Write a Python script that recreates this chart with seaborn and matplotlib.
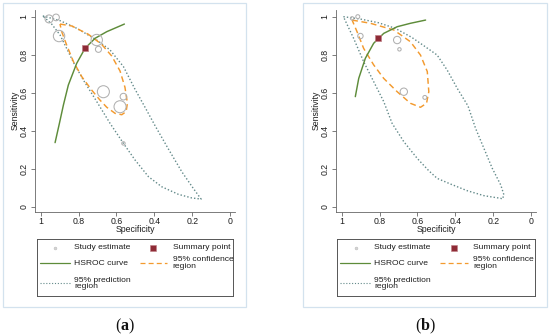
import matplotlib
matplotlib.use("Agg")
import matplotlib.pyplot as plt
import seaborn as sns
from matplotlib.patches import Rectangle

sns.set_theme(style="white")
plt.rcParams['font.family'] = ['Liberation Sans', 'DejaVu Sans']
plt.rcParams['mathtext.fontset'] = 'custom'
plt.rcParams['mathtext.rm'] = 'Liberation Serif'
plt.rcParams['mathtext.bf'] = 'Liberation Serif:bold'

# ---------------- data ----------------
tick_vals = [0, 0.2, 0.4, 0.6, 0.8, 1]
tick_text = ['0', '0.2', '0.4', '0.6', '0.8', '1']

# panel (a)
a_study_spec = [0.956, 0.919, 0.903, 0.704, 0.695, 0.669, 0.563, 0.581, 0.563]
a_study_sens = [0.988, 0.996, 0.898, 0.877, 0.828, 0.605, 0.579, 0.526, 0.333]
a_study_size = [33, 23, 67, 67, 19, 75, 23, 75, 6]
a_summary = (0.766, 0.833)
a_hsroc_spec = [0.924, 0.901, 0.880, 0.854, 0.810, 0.766, 0.713, 0.651, 0.558]
a_hsroc_sens = [0.337, 0.439, 0.535, 0.640, 0.754, 0.833, 0.886, 0.921, 0.961]
a_ci_spec = [0.898, 0.836, 0.748, 0.678, 0.625, 0.581, 0.555, 0.542, 0.549, 0.572,
             0.607, 0.651, 0.687, 0.731, 0.783, 0.827, 0.863, 0.889, 0.898]
a_ci_sens = [0.961, 0.951, 0.907, 0.854, 0.793, 0.714, 0.628, 0.544, 0.500, 0.484,
             0.491, 0.523, 0.561, 0.614, 0.684, 0.763, 0.851, 0.921, 0.961]
a_pr_spec = [0.989, 0.898, 0.810, 0.704, 0.634, 0.563, 0.502, 0.449, 0.396, 0.326,
             0.255, 0.194, 0.153, 0.202, 0.273, 0.361, 0.431, 0.502, 0.563, 0.634,
             0.704, 0.775, 0.824, 0.863, 0.898, 0.942, 0.989]
a_pr_sens = [1.004, 0.979, 0.939, 0.877, 0.825, 0.737, 0.618, 0.523, 0.426, 0.304,
             0.184, 0.096, 0.040, 0.046, 0.065, 0.105, 0.158, 0.246, 0.333, 0.439,
             0.553, 0.667, 0.754, 0.833, 0.904, 0.961, 1.004]

# panel (b)
b_study_spec = [0.945, 0.915, 0.901, 0.707, 0.695, 0.672, 0.561]
b_study_sens = [0.991, 1.000, 0.898, 0.877, 0.828, 0.605, 0.575]
b_study_size = [6, 8, 15, 28, 6, 28, 8]
b_summary = (0.810, 0.886)
b_hsroc_spec = [0.928, 0.910, 0.875, 0.831, 0.778, 0.707, 0.637, 0.557]
b_hsroc_sens = [0.579, 0.675, 0.781, 0.860, 0.912, 0.947, 0.965, 0.982]
b_ci_spec = [0.945, 0.848, 0.725, 0.637, 0.584, 0.548, 0.540, 0.552, 0.584, 0.637,
             0.707, 0.778, 0.831, 0.884, 0.919, 0.945]
b_ci_sens = [0.982, 0.965, 0.930, 0.868, 0.798, 0.711, 0.605, 0.544, 0.523, 0.544,
             0.605, 0.675, 0.746, 0.833, 0.921, 0.982]
b_pr_spec = [0.991, 0.894, 0.806, 0.718, 0.630, 0.559, 0.496, 0.443, 0.390, 0.333,
             0.293, 0.249, 0.205, 0.160, 0.143, 0.152, 0.160, 0.200, 0.249, 0.337,
             0.425, 0.496, 0.540, 0.601, 0.672, 0.734, 0.778, 0.831, 0.884, 0.937, 0.991]
b_pr_sens = [1.000, 0.986, 0.968, 0.939, 0.891, 0.842, 0.798, 0.719, 0.623, 0.530,
             0.412, 0.307, 0.202, 0.114, 0.061, 0.040, 0.044, 0.050, 0.058, 0.084,
             0.119, 0.149, 0.189, 0.254, 0.342, 0.439, 0.553, 0.658, 0.763, 0.886, 1.000]

legend_labels = ['Study estimate', 'Summary point', 'HSROC curve',
                 '95% confidence\nregion', '95% prediction\nregion']

GREEN = '#5e8c3a'
ORANGE = '#f39a2e'
PRED = '#638a8a'
CIRC = '#b0b0b0'
SUMF = '#8e2b36'
AXC = '#666666'
TXT = '#1e1e1e'
FS = 6.3
LFS = 6.1

W, H = 550.0, 335.0
fig = plt.figure(figsize=(W / 100, H / 100), dpi=100)


def px_axes(x0, y0, x1, y1):
    return fig.add_axes([x0 / W, 1 - y1 / H, (x1 - x0) / W, (y1 - y0) / H])


def draw_panel(ax, st_x, st_y, st_s, summ, hx, hy, cx, cy, px, py):
    sns.lineplot(x=px, y=py, sort=False, estimator=None, ax=ax, color=PRED,
                 linewidth=1.0, linestyle=(0, (1, 1.5)))
    sns.lineplot(x=cx, y=cy, sort=False, estimator=None, ax=ax, color=ORANGE,
                 linewidth=1.05, linestyle=(0, (4, 2.5)))
    sns.lineplot(x=hx, y=hy, sort=False, estimator=None, ax=ax, color=GREEN,
                 linewidth=1.05)
    sns.scatterplot(x=st_x, y=st_y, s=st_s, ax=ax, marker='o', facecolor='none',
                    edgecolor=CIRC, linewidth=0.75, zorder=4)
    ax.plot([summ[0]], [summ[1]], marker='s', ms=4.3, mfc=SUMF, mec='#c07f86',
            mew=0.5, ls='none', zorder=5)
    ax.set_xlim(1.030, -0.026)
    ax.set_ylim(-0.028, 1.035)
    ax.set_xticks(tick_vals)
    ax.set_xticklabels(tick_text)
    ax.set_yticks(tick_vals)
    ax.set_yticklabels(tick_text)
    for s in ['top', 'right']:
        ax.spines[s].set_visible(False)
    for s in ['left', 'bottom']:
        ax.spines[s].set_color(AXC)
        ax.spines[s].set_linewidth(0.6)
    ax.tick_params(axis='both', direction='out', length=2.9, width=0.6,
                   color=AXC, labelsize=FS, labelcolor=TXT, left=True, bottom=True)
    ax.tick_params(axis='y', pad=2, labelrotation=90)
    ax.tick_params(axis='x', pad=1)
    for lab in ax.get_yticklabels():
        lab.set_va('center')
    ax.set_xlabel('Specificity', fontsize=FS, color=TXT, va='center')
    ax.set_ylabel('Sensitivity', fontsize=FS, color=TXT, va='center')
    ax.xaxis.set_label_coords(0.5, -0.089)
    ax.yaxis.set_label_coords(-0.10, 0.505)
    ax.grid(False)


def draw_legend(lax, w, h):
    lax.set_xlim(0, w)
    lax.set_ylim(h, 0)
    lax.set_xticks([])
    lax.set_yticks([])
    for s in lax.spines.values():
        s.set_color('#555555')
        s.set_linewidth(0.7)
    lax.plot([18.5], [8.4], marker='o', ms=2.0, mfc='#d4d4d4', mec='#bcbcbc',
             mew=0.4, ls='none')
    lax.text(37.3, 8.4, legend_labels[0], fontsize=LFS, color=TXT, va='center')
    lax.plot([116.5], [8.4], marker='s', ms=4.0, mfc=SUMF, mec='#c07f86',
             mew=0.4, ls='none')
    lax.text(136, 8.4, legend_labels[1], fontsize=LFS, color=TXT, va='center')
    lax.plot([3.3, 33.3], [24, 24], color=GREEN, lw=0.9)
    lax.text(37.3, 24, legend_labels[2], fontsize=LFS, color=TXT, va='center')
    lax.plot([103.3, 130.5], [24, 24], color=ORANGE, lw=0.9, ls=(0, (4, 2.5)))
    lax.text(136, 23.8, legend_labels[3], fontsize=LFS, color=TXT, va='center',
             linespacing=0.95)
    lax.plot([3.3, 33.3], [44, 44], color=PRED, lw=0.8, ls=(0, (1, 1.6)))
    lax.text(37.3, 44.3, legend_labels[4], fontsize=LFS, color=TXT, va='center',
             linespacing=0.95)


# ---------------- panel (a) ----------------
ax_a = px_axes(35, 10, 235, 212)
draw_panel(ax_a, a_study_spec, a_study_sens, a_study_size, a_summary,
           a_hsroc_spec, a_hsroc_sens, a_ci_spec, a_ci_sens, a_pr_spec, a_pr_sens)
lg_a = px_axes(36.7, 239.3, 233.3, 295.7)
draw_legend(lg_a, 196.6, 56.4)

# ---------------- panel (b) ----------------
ax_b = px_axes(336, 10, 536, 212)
draw_panel(ax_b, b_study_spec, b_study_sens, b_study_size, b_summary,
           b_hsroc_spec, b_hsroc_sens, b_ci_spec, b_ci_sens, b_pr_spec, b_pr_sens)
lg_b = px_axes(337, 239.3, 535, 295.7)
draw_legend(lg_b, 198, 56.4)

# outer frames and captions
for x0, x1 in [(3, 246), (303, 547)]:
    fig.add_artist(Rectangle((x0 / W, 1 - 307 / H), (x1 - x0) / W, 304 / H,
                             transform=fig.transFigure, fill=False,
                             edgecolor='#d3e2ee', linewidth=0.9))
fig.text(125 / W, 1 - 326 / H, r'($\mathbf{a}$)', ha='center', va='center',
         fontsize=11.5, family='Liberation Serif', color='#111111')
fig.text(425 / W, 1 - 326 / H, r'($\mathbf{b}$)', ha='center', va='center',
         fontsize=11.5, family='Liberation Serif', color='#111111')

fig.savefig('out.png', dpi=100)
